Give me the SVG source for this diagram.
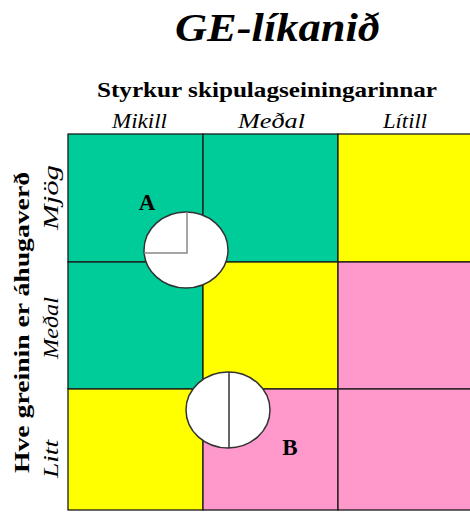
<svg xmlns="http://www.w3.org/2000/svg" width="470" height="513" viewBox="0 0 470 513">
<style>
.t{font-family:"Liberation Serif","Times New Roman",serif;fill:#000}
.b{font-weight:bold}
.i{font-style:italic}
.cell{stroke:#1a1a1a;stroke-width:1.3}
.circ{fill:#fff;stroke:#333;stroke-width:1.5}
</style>
<rect width="470" height="513" fill="#fff"/>
<text class="t b i" x="175" y="41" font-size="41" textLength="205" lengthAdjust="spacingAndGlyphs">GE-líkanið</text>
<text class="t b" x="97" y="97" font-size="21" textLength="340" lengthAdjust="spacingAndGlyphs">Styrkur skipulagseiningarinnar</text>
<text class="t i" x="112" y="128" font-size="20" textLength="55" lengthAdjust="spacingAndGlyphs">Mikill</text>
<text class="t i" x="238" y="128" font-size="20" textLength="67" lengthAdjust="spacingAndGlyphs">Meðal</text>
<text class="t i" x="383" y="128" font-size="20" textLength="44" lengthAdjust="spacingAndGlyphs">Lítill</text>
<text class="t b" transform="translate(29,473) rotate(-90)" font-size="22" textLength="301" lengthAdjust="spacingAndGlyphs">Hve greinin er áhugaverð</text>
<text class="t i" transform="translate(58,230) rotate(-90)" font-size="20" textLength="65" lengthAdjust="spacingAndGlyphs">Mjög</text>
<text class="t i" transform="translate(58,359) rotate(-90)" font-size="20" textLength="62" lengthAdjust="spacingAndGlyphs">Meðal</text>
<text class="t i" transform="translate(58,478) rotate(-90)" font-size="20" textLength="38" lengthAdjust="spacingAndGlyphs">Litt</text>
<g id="grid">
<rect class="cell" x="68" y="134" width="135" height="128" fill="#00CC99"/>
<rect class="cell" x="203" y="134" width="135" height="128" fill="#00CC99"/>
<rect class="cell" x="338" y="134" width="135" height="128" fill="#FFFF00"/>
<rect class="cell" x="68" y="262" width="135" height="127" fill="#00CC99"/>
<rect class="cell" x="203" y="262" width="135" height="127" fill="#FFFF00"/>
<rect class="cell" x="338" y="262" width="135" height="127" fill="#FF99CC"/>
<rect class="cell" x="68" y="389" width="135" height="121" fill="#FFFF00"/>
<rect class="cell" x="203" y="389" width="135" height="121" fill="#FF99CC"/>
<rect class="cell" x="338" y="389" width="135" height="121" fill="#FF99CC"/>
</g>
<g id="nodeA">
<ellipse class="circ" cx="186" cy="250" rx="42" ry="38"/>
<path d="M187 212 V253 H144" fill="none" stroke="#888" stroke-width="1.5"/>
<text class="t b" x="147" y="210" font-size="23" text-anchor="middle">A</text>
</g>
<g id="nodeB">
<ellipse class="circ" cx="228" cy="410" rx="42" ry="38"/>
<line x1="229" y1="372" x2="229" y2="448" stroke="#333" stroke-width="1.5"/>
<text class="t b" x="290" y="455" font-size="23" text-anchor="middle">B</text>
</g>
<g id="connectors"/>
</svg>
